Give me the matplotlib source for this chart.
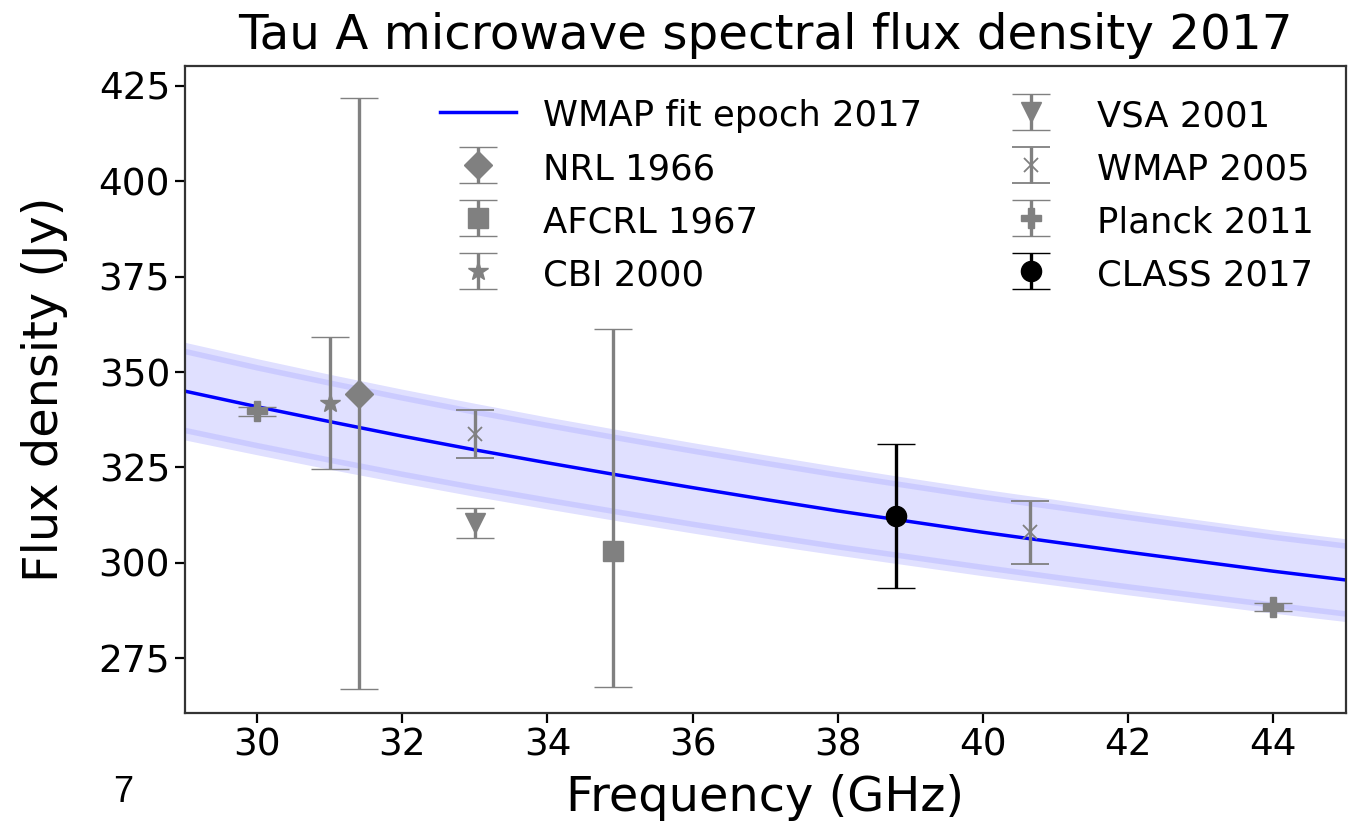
import matplotlib
matplotlib.use("Agg")
import matplotlib.pyplot as plt

# WMAP power-law fit for epoch 2017 at each GHz
fit_freq = [29, 30, 31, 32, 33, 34, 35, 36, 37, 38, 39, 40, 41, 42, 43, 44, 45]
fit_flux = [345.0, 340.9, 337.0, 333.2, 329.6, 326.2, 322.9, 319.7, 316.6,
            313.6, 310.8, 308.0, 305.4, 302.8, 300.3, 297.8, 295.5]
fit_upper = [355.4, 351.1, 347.1, 343.2, 339.5, 336.0, 332.6, 329.3, 326.1,
             323.0, 320.1, 317.2, 314.6, 311.9, 309.3, 306.7, 304.4]
fit_lower = [334.7, 330.7, 326.9, 323.2, 319.7, 316.4, 313.2, 310.1, 307.1,
             304.2, 301.5, 298.8, 296.2, 293.7, 291.3, 288.9, 286.6]
band_upper = [357.8, 353.5, 349.4, 345.5, 341.8, 338.2, 334.8, 331.5, 328.3,
              325.2, 322.2, 319.3, 316.6, 313.8, 311.2, 308.6, 306.3]
band_lower = [332.2, 328.3, 324.5, 320.9, 317.4, 314.1, 310.9, 307.8, 304.8,
              302.0, 299.3, 296.6, 294.1, 291.6, 289.2, 286.8, 284.6]

# measurements: label, marker, freq, flux, lower err, upper err
labels = ['NRL 1966', 'AFCRL 1967', 'CBI 2000', 'VSA 2001',
          'WMAP 2005', 'Planck 2011', 'CLASS 2017']
markers = ['D', 's', '*', 'v', 'x', 'P', 'o']
freqs = [[31.4], [34.9], [31.0], [33.0], [33.0, 40.65], [30.0, 44.0], [38.8]]
fluxes = [[344.3], [303.2], [342.0], [310.5], [333.7, 308.0], [339.7, 288.4], [312.2]]
err_lo = [[77.3], [35.8], [17.3], [3.9], [6.3, 8.3], [1.2, 1.0], [18.9]]
err_hi = [[77.5], [58.0], [17.3], [3.9], [6.3, 8.3], [1.2, 1.0], [18.9]]
colors = ['gray'] * 6 + ['black']

fig = plt.figure(figsize=(13.66, 8.4), dpi=100)
ax = fig.add_axes([0.1352, 0.1515, 0.8499, 0.7699])

# uncertainty band of the fit
ax.fill_between(fit_freq, band_lower, band_upper, color='#0000ff', alpha=0.12, lw=0)
ax.plot(fit_freq, fit_upper, color='#0000ff', alpha=0.09, lw=4)
ax.plot(fit_freq, fit_lower, color='#0000ff', alpha=0.09, lw=4)
ax.plot(fit_freq, fit_flux, color='#0000ff', lw=2.5, label='WMAP fit epoch 2017')

for lab, mk, x, y, lo, hi, c in zip(labels, markers, freqs, fluxes, err_lo, err_hi, colors):
    ax.errorbar(x, y, yerr=[lo, hi], fmt=mk, color=c,
                ms=10 if mk == 'x' else 14.5,
                mew=1.3 if mk == 'x' else 1.0, elinewidth=2.4, capsize=14,
                capthick=2.4, label=lab)

ax.set_xlim(29, 45)
ax.set_ylim(260.7, 430.2)
ax.set_xticks([30, 32, 34, 36, 38, 40, 42, 44])
ax.set_yticks([275, 300, 325, 350, 375, 400, 425])
ax.tick_params(labelsize=27, length=7, width=1.6)
for sp in ax.spines.values():
    sp.set_linewidth(1.6)
    sp.set_color('#333333')

ax.set_title('Tau A microwave spectral flux density 2017', fontsize=34.8, pad=12)
ax.set_xlabel('Frequency (GHz)', fontsize=34.5, labelpad=8)
ax.set_ylabel('Flux density (Jy)', fontsize=34.5, labelpad=22)

ax.legend(ncol=2, loc='upper right', frameon=False, fontsize=25.5,
          handlelength=2.15, handleheight=1.1, handletextpad=0.78,
          columnspacing=2.0, labelspacing=0.48, borderaxespad=0.3,
          bbox_to_anchor=(0.994, 0.99))

fig.text(0.083, 0.045, '7', fontsize=26, family='Liberation Sans')

fig.savefig('out.png', dpi=100)
